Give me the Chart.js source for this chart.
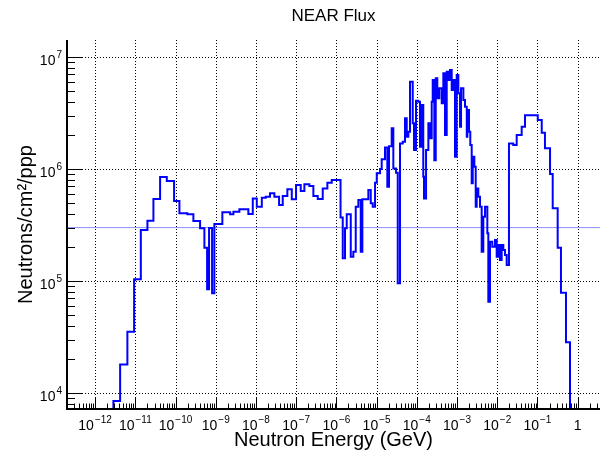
<!DOCTYPE html>
<html>
<head>
<meta charset="utf-8">
<script src="https://cdn.jsdelivr.net/npm/chart.js@4.4.1/dist/chart.umd.min.js"></script>
<style>
  html, body { margin: 0; padding: 0; background: #fff; }
  #wrap { width: 601px; height: 456px; }
</style>
</head>
<body>
<div id="wrap"><canvas id="chart"></canvas></div>
<script>
// lower bin edges (GeV) and flux per bin (neutrons/cm2/ppp)
const energyEdges = [
    2.0e-13, 2.85e-12, 4.19e-12, 6.35e-12, 9.33e-12, 1.37e-11, 2.0e-11, 2.82e-11, 4.13e-11, 6.07e-11,
    9.2e-11, 1.25e-10, 1.97e-10, 2.78e-10, 4.08e-10, 5.22e-10, 6.10e-10, 6.82e-10, 8.11e-10, 9.25e-10,
    1.46e-9, 2.28e-9, 2.75e-9, 3.87e-9, 6.47e-9, 8.34e-9, 1.05e-8, 1.40e-8, 1.75e-8, 2.24e-8,
    2.87e-8, 3.76e-8, 4.64e-8, 6.04e-8, 7.78e-8, 9.93e-8, 1.30e-7, 1.60e-7, 2.13e-7, 2.68e-7,
    3.44e-7, 4.58e-7, 5.97e-7, 7.67e-7, 1.27e-6, 1.44e-6, 1.64e-6, 1.81e-6, 2.28e-6, 2.64e-6,
    3.03e-6, 3.52e-6, 4.04e-6, 4.43e-6, 6.24e-6, 7.16e-6, 8.02e-6, 9.16e-6, 1.01e-5, 1.22e-5,
    1.34e-5, 1.62e-5, 1.85e-5, 2.04e-5, 2.38e-5, 2.61e-5, 3.05e-5, 3.36e-5, 3.83e-5, 4.47e-5,
    5.10e-5, 5.62e-5, 6.17e-5, 6.79e-5, 7.93e-5, 8.53e-5, 9.57e-5, 1.09e-4, 1.20e-4, 1.33e-4,
    1.45e-4, 1.51e-4, 1.70e-4, 1.94e-4, 2.13e-4, 2.35e-4, 2.49e-4, 2.73e-4, 2.96e-4, 3.24e-4,
    3.63e-4, 4.17e-4, 4.57e-4, 5.04e-4, 5.55e-4, 6.08e-4, 6.70e-4, 7.39e-4, 8.09e-4, 8.93e-4,
    9.84e-4, 1.08e-3, 1.19e-3, 1.26e-3, 1.44e-3, 1.58e-3, 1.75e-3, 1.81e-3, 1.99e-3, 2.14e-3,
    2.32e-3, 2.46e-3, 2.70e-3, 2.92e-3, 3.09e-3, 3.39e-3, 3.73e-3, 4.11e-3, 4.51e-3, 4.98e-3,
    5.68e-3, 6.01e-3, 6.62e-3, 7.55e-3, 8.81e-3, 9.70e-3, 1.06e-2, 1.17e-2, 1.29e-2, 1.42e-2,
    1.56e-2, 1.72e-2, 1.96e-2, 2.51e-2, 3.05e-2, 4.06e-2, 4.91e-2, 1.02e-1, 1.28e-1, 1.54e-1,
    2.06e-1, 2.40e-1, 3.19e-1, 3.85e-1, 5.13e-1, 6.46e-1, 3.6
]
const flux = [
    1, 8.5e3, 1.80e4, 3.52e4, 1.04e5, 2.85e5, 3.45e5, 5.40e5, 8.49e5, 7.81e5,
    5.18e5, 4.02e5, 3.94e5, 3.43e5, 2.96e5, 1.98e5, 8.43e4, 2.97e5, 7.76e4, 3.23e5,
    4.11e5, 3.94e5, 4.16e5, 4.37e5, 3.96e5, 5.46e5, 4.61e5, 5.54e5, 5.66e5, 6.07e5,
    5.66e5, 4.77e5, 5.74e5, 6.59e5, 5.36e5, 7.20e5, 6.37e5, 7.30e5, 7.05e5, 5.74e5,
    5.40e5, 6.72e5, 7.55e5, 7.98e5, 3.69e5, 1.60e5, 2.96e5, 3.94e5, 1.65e5, 1.83e5,
    4.61e5, 5.29e5, 1.83e5, 5.36e5, 6.49e5, 4.94e5, 4.61e5, 7.55e5, 9.16e5, 1.0e6,
    1.22e6, 1.56e6, 6.95e5, 1.60e6, 2.31e6, 1.01e6, 9.27e5, 9.53e4, 1.69e6, 1.75e6,
    2.84e6, 1.94e6, 2.15e6, 6.02e6, 2.56e6, 1.48e6, 4.07e6, 3.99e6, 1.58e6, 3.73e6,
    8.53e5, 5.47e5, 1.48e6, 2.56e6, 1.88e6, 3.99e6, 6.24e6, 1.20e6, 6.46e6, 4.28e6,
    5.26e6, 3.86e6, 7.15e6, 2.01e6, 7.39e6, 6.24e6, 7.66e6, 5.07e6, 6.24e6, 1.29e6,
    6.90e6, 4.74e6, 2.39e6, 5.26e6, 4.13e6, 3.60e6, 1.94e6, 3.37e6, 2.15e6, 1.64e6,
    7.45e5, 1.29e6, 1.05e6, 4.61e5, 6.72e5, 5.66e5, 4.61e5, 1.83e5, 3.75e5, 4.61e5,
    2.67e5, 6.53e4, 2.24e5, 2.02e5, 2.32e5, 1.65e5, 2.10e5, 1.54e5, 2.10e5, 1.89e5,
    1.71e5, 1.39e5, 1.69e6, 1.64e6, 2.01e6, 2.39e6, 3.03e6, 2.74e6, 2.11e6, 1.53e6,
    9.02e5, 4.46e5, 1.98e5, 7.86e4, 2.84e4, 1, 1
]
const refLevel = 3e5

const xRange = [2.0e-13, 3.6]
const yRange = [7.2e3, 1.42e7]
const xDecades = [-12, -11, -10, -9, -8, -7, -6, -5, -4, -3, -2, -1, 0]
const yDecades = [4, 5, 6, 7]

const FONT = "'Liberation Sans', Arial, Helvetica, sans-serif"

const histPoints = energyEdges.map((e, i) => ({ x: e, y: flux[i] }))

// "10" with a raised exponent, like ROOT draws it
function powLabel(ctx, exp, x, y, align, supRise) {
    const base = exp === 0 ? '1' : '10'
    const sup = exp === 0 || exp === 1 ? '' : String(exp).replace('-', '\u2212')
    ctx.font = `14px ${FONT}`
    const wb = ctx.measureText(base).width
    ctx.font = `10px ${FONT}`
    const ws = sup ? ctx.measureText(sup).width + 1 : 0
    const w = wb + ws
    const x0 = align === 'center' ? x - w / 2 : x - w
    ctx.textAlign = 'left'
    ctx.textBaseline = 'alphabetic'
    ctx.font = `14px ${FONT}`
    ctx.fillText(base, x0, y)
    if (sup) {
        ctx.font = `10px ${FONT}`
        ctx.fillText(sup, x0 + wb + 1, y - supRise)
    }
}

function minorValues(range) {
    const out = []
    for (let d = Math.floor(Math.log10(range[0])); d <= Math.ceil(Math.log10(range[1])); d++) {
        for (let m = 1; m <= 9; m++) {
            const v = m * Math.pow(10, d)
            if (v >= range[0] && v <= range[1]) out.push({ v, major: m === 1 })
        }
    }
    return out
}

const rootAxes = {
    id: 'rootAxes',
    beforeDatasetsDraw(chart) {
        const { ctx, chartArea: a, scales: { x, y } } = chart
        ctx.save()
        ctx.strokeStyle = '#000'
        ctx.lineWidth = 1
        ctx.setLineDash([1, 2])
        ctx.beginPath()
        for (const e of xDecades) {
            const px = Math.round(x.getPixelForValue(Math.pow(10, e))) + 0.5
            ctx.moveTo(px, a.top)
            ctx.lineTo(px, a.bottom)
        }
        for (const e of yDecades) {
            const py = Math.round(y.getPixelForValue(Math.pow(10, e))) + 0.5
            ctx.moveTo(a.left, py)
            ctx.lineTo(a.right, py)
        }
        ctx.stroke()
        ctx.restore()
    },
    afterDraw(chart) {
        const { ctx, chartArea: a, scales: { x, y } } = chart
        ctx.save()
        ctx.strokeStyle = '#000'
        ctx.fillStyle = '#000'
        ctx.lineWidth = 1
        ctx.beginPath()
        for (const t of minorValues(xRange)) {
            const px = Math.round(x.getPixelForValue(t.v)) + 0.5
            ctx.moveTo(px, a.bottom)
            ctx.lineTo(px, a.bottom - (t.major ? 11 : 5.5))
        }
        for (const t of minorValues(yRange)) {
            const py = Math.round(y.getPixelForValue(t.v)) + 0.5
            ctx.moveTo(a.left, py)
            ctx.lineTo(a.left + (t.major ? 16 : 8), py)
        }
        ctx.stroke()

        ctx.lineWidth = 2
        ctx.beginPath()
        ctx.moveTo(a.left, a.top)
        ctx.lineTo(a.left, a.bottom)
        ctx.lineTo(a.right, a.bottom)
        ctx.stroke()

        for (const e of xDecades) {
            powLabel(ctx, e, x.getPixelForValue(Math.pow(10, e)), a.bottom + 21, 'center', 7)
        }
        for (const e of yDecades) {
            powLabel(ctx, e, a.left - 5, y.getPixelForValue(Math.pow(10, e)) + 8, 'right', 7.5)
        }
        ctx.restore()
    }
}

const config = {
    type: 'line',
    data: {
        datasets: [
            {
                label: 'flux',
                data: histPoints,
                borderColor: '#0000ff',
                borderWidth: 2,
                stepped: 'before',
                pointRadius: 0,
                fill: false,
                clip: 0,
                order: 0,
            },
            {
                label: 'level',
                data: [{ x: xRange[0], y: refLevel }, { x: xRange[1], y: refLevel }],
                borderColor: '#8c8cff',
                borderWidth: 1,
                pointRadius: 0,
                fill: false,
                order: 1,
            },
        ]
    },
    options: {
        responsive: true,
        maintainAspectRatio: false,
        animation: false,
        events: [],
        layout: { padding: { right: 1 } },
        plugins: {
            legend: { display: false },
            tooltip: { enabled: false },
            title: {
                display: true,
                text: 'NEAR Flux',
                fullSize: false,
                color: '#000',
                font: { family: FONT, size: 17, weight: 'normal', lineHeight: '20px' },
                padding: { top: 6, bottom: 14 },
            },
        },
        scales: {
            x: {
                type: 'logarithmic',
                min: xRange[0],
                max: xRange[1],
                grid: { display: false },
                border: { display: false },
                ticks: { display: false },
                title: {
                    display: true,
                    text: 'Neutron Energy (GeV)',
                    color: '#000',
                    font: { family: FONT, size: 20 },
                    padding: { top: 0, bottom: 4 },
                },
                afterFit: (scale) => { scale.height = 47 },
            },
            y: {
                type: 'logarithmic',
                min: yRange[0],
                max: yRange[1],
                grid: { display: false },
                border: { display: false },
                ticks: { display: false },
                title: {
                    display: true,
                    text: 'Neutrons/cm\u00b2/ppp',
                    color: '#000',
                    font: { family: FONT, size: 20 },
                    padding: { top: 14, bottom: 0 },
                },
                afterFit: (scale) => { scale.width = 67 },
            }
        }
    },
    plugins: [rootAxes]
}

let chart = new Chart(document.getElementById('chart'), config)
</script>
</body>
</html>
